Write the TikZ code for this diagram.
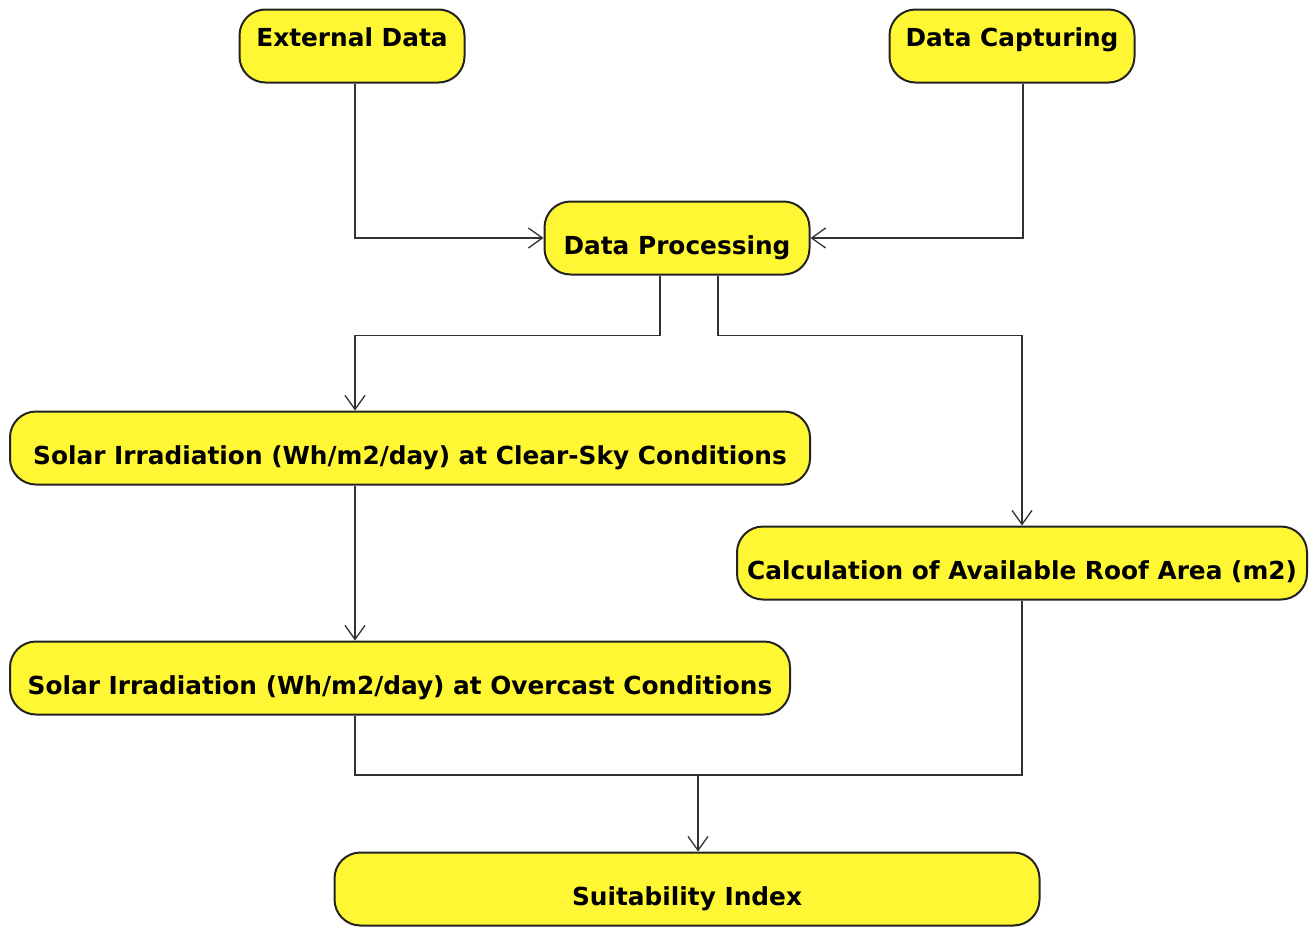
\documentclass[tikz,border=0pt]{standalone}
\usepackage{fontspec}
\setmainfont{DejaVu Sans}
\usepackage{tikz}
\usetikzlibrary{arrows.meta,positioning,calc}
\definecolor{actfill}{RGB}{255,246,52}
\definecolor{actrule}{RGB}{35,35,35}
\definecolor{flowline}{RGB}{50,50,50}

\begin{document}
\begin{tikzpicture}[x=1pt,y=-1pt,
  >={Straight Barb[length=14pt,width=20pt,line width=1.3pt]},
  act/.style={draw=actrule,fill=actfill,line width=2pt,rounded corners=26pt,
              align=center,inner sep=0pt,minimum height=73pt,
              font=\fontsize{24.8}{29}\selectfont\bfseries,text height=38pt,text depth=5pt},
  acttop/.style={act,text height=16pt,text depth=16pt},
  flow/.style={draw=flowline,line width=1.3pt}]
  \useasboundingbox (0,0) rectangle (1313,926);
  \node[acttop,minimum width=225pt](ext) at (352,46){External Data};
  \node[acttop,minimum width=245pt](cap) at (1012,46){Data Capturing};
  \node[act,minimum width=265pt](proc) at (677,238){Data Processing};
  \node[act,minimum width=800pt](clear) at (410,448){Solar Irradiation (Wh/m2/day) at Clear-Sky Conditions};
  \node[act,minimum width=570pt](roof) at (1022,563){Calculation of Available Roof Area (m2)};
  \node[act,minimum width=780pt](over) at (400,678){Solar Irradiation (Wh/m2/day) at Overcast Conditions};
  \node[act,minimum width=705pt](suit) at (687,889){Suitability Index};
  \coordinate (merge) at (698,775);
  \draw[flow,->]([xshift=3pt]ext.south) |- (proc.west);
  \draw[flow,->]([xshift=11pt]cap.south) |- (proc.east);
  \draw[flow,->]([xshift=-17pt]proc.south) -- ++(0,60) -| ([xshift=-55pt]clear.north);
  \draw[flow,->]([xshift=41pt]proc.south) -- ++(0,60) -| (roof.north);
  \draw[flow,->]([xshift=-55pt]clear.south) -- ([xshift=-45pt]over.north);
  \draw[flow]([xshift=-45pt]over.south) |- (merge);
  \draw[flow](roof.south) |- (merge);
  \draw[flow,->](merge) -- (merge |- suit.north);
\end{tikzpicture}
\end{document}
